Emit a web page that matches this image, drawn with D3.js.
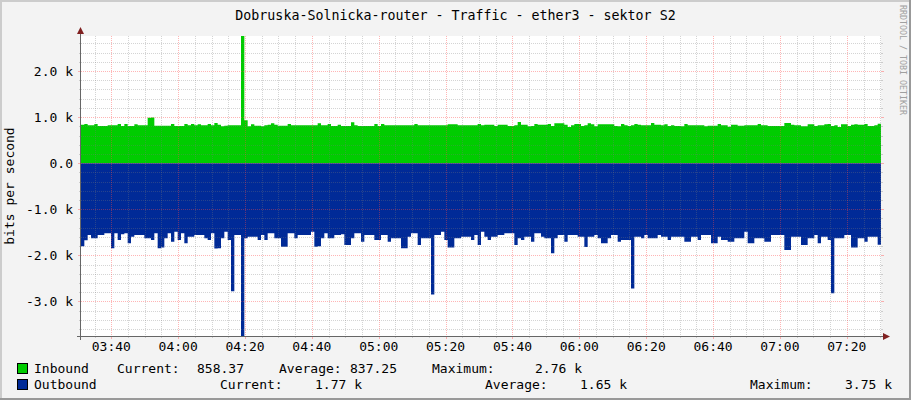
<!DOCTYPE html>
<html>
<head>
<meta charset="utf-8">
<script src="https://cdn.jsdelivr.net/npm/d3@7"></script>
<style>
  body { margin: 0; background: #f3f3f3; }
  svg { display: block; }
  text { font-family: "DejaVu Sans Mono", monospace; }
</style>
</head>
<body>
<svg id="chart" width="911" height="400"></svg>
<script>
// --- data (bits per second, one sample per minute) ---
const inbound = [
  836, 851, 822, 822, 851, 807, 807, 807, 822, 822,
  822, 851, 807, 851, 807, 807, 843, 822, 822, 822,
  985, 990, 814, 814, 814, 814, 814, 851, 807, 807,
  807, 851, 822, 851, 822, 843, 822, 822, 851, 822,
  872, 836, 800, 814, 822, 822, 822, 822, 2760, 930,
  800, 843, 814, 814, 800, 822, 836, 865, 836, 814,
  814, 814, 851, 822, 822, 822, 822, 822, 822, 822,
  822, 865, 822, 822, 851, 807, 807, 836, 807, 807,
  807, 887, 822, 807, 807, 807, 807, 807, 851, 807,
  851, 822, 822, 822, 822, 822, 822, 822, 822, 822,
  851, 822, 822, 822, 822, 822, 822, 822, 822, 822,
  843, 843, 843, 822, 822, 822, 822, 822, 822, 851,
  822, 836, 836, 836, 807, 836, 836, 836, 807, 807,
  822, 894, 836, 836, 800, 807, 851, 836, 836, 836,
  851, 807, 865, 865, 865, 836, 786, 822, 851, 851,
  807, 822, 865, 843, 800, 843, 843, 843, 843, 843,
  807, 800, 851, 822, 807, 822, 851, 836, 822, 822,
  822, 872, 836, 836, 822, 843, 807, 822, 807, 807,
  800, 851, 822, 822, 822, 822, 822, 800, 814, 814,
  814, 851, 822, 822, 793, 836, 836, 814, 814, 822,
  822, 822, 822, 851, 822, 822, 807, 807, 807, 807,
  807, 872, 872, 836, 822, 822, 800, 800, 843, 843,
  807, 822, 822, 843, 851, 807, 822, 786, 843, 843,
  807, 836, 843, 836, 836, 851, 807, 807, 822, 858
];
const outbound = [
  1800, 1670, 1560, 1630, 1630, 1560, 1560, 1522, 1522, 1847,
  1522, 1667, 1540, 1522, 1739, 1594, 1558, 1558, 1558, 1630,
  1630, 1667, 1522, 1847, 1830, 1630, 1522, 1703, 1490, 1667,
  1522, 1739, 1594, 1594, 1558, 1558, 1558, 1630, 1667, 1522,
  1850, 1847, 1630, 1486, 1667, 2780, 1558, 1558, 3750, 1630,
  1594, 1594, 1594, 1667, 1558, 1667, 1522, 1522, 1630, 1630,
  1811, 1811, 1522, 1522, 1630, 1558, 1558, 1558, 1558, 1486,
  1811, 1800, 1630, 1522, 1630, 1630, 1558, 1558, 1540, 1775,
  1775, 1630, 1522, 1522, 1703, 1558, 1558, 1558, 1667, 1667,
  1558, 1558, 1703, 1630, 1630, 1630, 1847, 1847, 1594, 1522,
  1522, 1775, 1630, 1630, 1630, 2850, 1558, 1558, 1486, 1667,
  1830, 1830, 1630, 1630, 1594, 1594, 1594, 1667, 1558, 1775,
  1486, 1594, 1667, 1594, 1594, 1558, 1558, 1522, 1522, 1522,
  1775, 1630, 1667, 1594, 1594, 1703, 1522, 1522, 1594, 1630,
  1630, 1956, 1630, 1558, 1558, 1703, 1558, 1558, 1558, 1594,
  1594, 1820, 1594, 1594, 1558, 1630, 1739, 1739, 1630, 1558,
  1558, 1703, 1667, 1667, 1667, 2720, 1594, 1594, 1630, 1558,
  1630, 1630, 1630, 1558, 1594, 1594, 1667, 1594, 1594, 1594,
  1594, 1703, 1703, 1594, 1594, 1667, 1558, 1558, 1558, 1739,
  1739, 1594, 1667, 1667, 1703, 1703, 1630, 1630, 1630, 1486,
  1739, 1739, 1630, 1630, 1630, 1703, 1703, 1558, 1558, 1558,
  1558, 1884, 1884, 1594, 1594, 1594, 1775, 1775, 1630, 1630,
  1558, 1739, 1594, 1594, 1667, 2820, 1630, 1630, 1630, 1558,
  1558, 1830, 1830, 1630, 1630, 1703, 1594, 1594, 1594, 1770
];

const yTicks = [-3000, -2000, -1000, 0, 1000, 2000];
const yTickLabels = ["-3.0 k", "-2.0 k", "-1.0 k", "0.0", "1.0 k", "2.0 k"];
const xTickLabels = ["03:40", "04:00", "04:20", "04:40", "05:00", "05:20", "05:40",
                     "06:00", "06:20", "06:40", "07:00", "07:20"];

const seriesNames = ["Inbound", "Outbound"];
const seriesColors = ["#00cc00", "#002a97"];
const currentVals = ["858.37", "1.77 k"];
const averageVals = ["837.25", "1.65 k"];
const maximumVals = ["2.76 k", "3.75 k"];

const title = "Dobruska-Solnicka-router - Traffic - ether3 - sektor S2";

// --- layout ---
const W = 911, H = 400;
const pL = 81, pR = 881, pT = 36, pB = 336;
const day = "2024-01-01T";
const t0 = new Date(day + "03:30:56");
const t1 = new Date(t0.getTime() + 239.3 * 60000);
const step = (t1 - t0) / inbound.length;

const svg = d3.select("#chart");

// frame
svg.append("rect").attr("width", W).attr("height", H).attr("fill", "#f3f3f3");
svg.append("rect").attr("x", 0).attr("y", 0).attr("width", W).attr("height", 2).attr("fill", "#cccccc");
svg.append("rect").attr("x", 0).attr("y", 0).attr("width", 2).attr("height", H).attr("fill", "#cccccc");
svg.append("rect").attr("x", 0).attr("y", H - 2).attr("width", W).attr("height", 2).attr("fill", "#999999");
svg.append("rect").attr("x", W - 2).attr("y", 0).attr("width", 2).attr("height", H).attr("fill", "#999999");

svg.append("rect")
  .attr("x", pL).attr("y", pT)
  .attr("width", pR - pL).attr("height", pB - pT)
  .attr("fill", "#ffffff");

const x = d3.scaleTime().domain([t0, t1]).range([pL, pR]);
const y = d3.scaleLinear().domain([-3750, 2760]).range([pB, pT]);

const tAt = i => new Date(t0.getTime() + i * step);
const withEnd = arr => arr.concat([arr[arr.length - 1]]);

const inArea = d3.area()
  .curve(d3.curveStepAfter)
  .x((d, i) => x(tAt(i)))
  .y0(y(0))
  .y1(d => y(d));

const outArea = d3.area()
  .curve(d3.curveStepAfter)
  .x((d, i) => x(tAt(i)))
  .y0(y(0))
  .y1(d => y(-d));

svg.append("path").attr("d", inArea(withEnd(inbound))).attr("fill", seriesColors[0]);
svg.append("path").attr("d", outArea(withEnd(outbound))).attr("fill", seriesColors[1]);

// grid (drawn on top, translucent like rrdtool)
const minorCol = "rgba(120,120,120,0.32)";
const majorCol = "rgba(255,70,70,0.4)";
const grid = svg.append("g").attr("shape-rendering", "crispEdges");
const py = v => Math.round(y(v)) + 0.5;
const px = t => Math.round(x(t)) + 0.5;

const yMinor = d3.range(-3600, 2760, 200).filter(v => v % 1000 !== 0);
grid.selectAll(".ymin").data(yMinor).join("line")
  .attr("x1", pL).attr("x2", pR)
  .attr("y1", py).attr("y2", py)
  .attr("stroke", minorCol).attr("stroke-dasharray", "1,1");
grid.selectAll(".ymint").data(yMinor).join("path")
  .attr("d", d => `M${pL - 2},${py(d)}H${pL}M${pR},${py(d)}H${pR + 2}`)
  .attr("stroke", minorCol);

const xMinor = x.ticks(d3.timeMinute.every(5)).filter(t => t.getMinutes() % 20 !== 0);
grid.selectAll(".xmin").data(xMinor).join("line")
  .attr("x1", px).attr("x2", px)
  .attr("y1", pT).attr("y2", pB)
  .attr("stroke", minorCol).attr("stroke-dasharray", "1,1");
grid.selectAll(".xmint").data(xMinor).join("line")
  .attr("x1", px).attr("x2", px)
  .attr("y1", pB).attr("y2", pB + 2)
  .attr("stroke", minorCol);

grid.selectAll(".ymaj").data(yTicks).join("line")
  .attr("x1", pL).attr("x2", pR)
  .attr("y1", py).attr("y2", py)
  .attr("stroke", majorCol).attr("stroke-dasharray", "1,1");
grid.selectAll(".ymajt").data(yTicks).join("path")
  .attr("d", d => `M${pL - 3},${py(d)}H${pL}M${pR},${py(d)}H${pR + 3}`)
  .attr("stroke", majorCol);

const xMajor = xTickLabels.map(s => new Date(day + s + ":00"));
grid.selectAll(".xmaj").data(xMajor).join("line")
  .attr("x1", px).attr("x2", px)
  .attr("y1", pT).attr("y2", pB)
  .attr("stroke", majorCol).attr("stroke-dasharray", "1,1");
grid.selectAll(".xmajt").data(xMajor).join("line")
  .attr("x1", px).attr("x2", px)
  .attr("y1", pB).attr("y2", pB + 3)
  .attr("stroke", majorCol);

// axes
const axisCol = "#666666";
const arrowCol = "#802020";
svg.append("line").attr("shape-rendering", "crispEdges")
  .attr("x1", pL - 0.5).attr("x2", pL - 0.5).attr("y1", pT - 6).attr("y2", pB + 4)
  .attr("stroke", axisCol);
svg.append("line").attr("shape-rendering", "crispEdges")
  .attr("x1", pL - 4).attr("x2", pR + 4).attr("y1", pB + 0.5).attr("y2", pB + 0.5)
  .attr("stroke", axisCol);
svg.append("path")
  .attr("d", `M${pL - 4},${pT - 2}L${pL - 0.5},${pT - 9}L${pL + 3},${pT - 2}Z`)
  .attr("fill", arrowCol);
svg.append("path")
  .attr("d", `M${pR + 2},${pB - 3}L${pR + 9},${pB + 0.5}L${pR + 2},${pB + 4}Z`)
  .attr("fill", arrowCol);

// tick labels
svg.append("g").selectAll("text").data(yTicks).join("text")
  .attr("x", 73).attr("y", d => y(d) + 4.5)
  .attr("text-anchor", "end").attr("font-size", 13).attr("fill", "#000")
  .text((d, i) => yTickLabels[i]);

svg.append("g").selectAll("text").data(xMajor).join("text")
  .attr("x", d => x(d)).attr("y", 351)
  .attr("text-anchor", "middle").attr("font-size", 13).attr("fill", "#000")
  .text((d, i) => xTickLabels[i]);

// titles
svg.append("text")
  .attr("x", W / 2).attr("y", 19.5)
  .attr("text-anchor", "middle").attr("font-size", 13.3).attr("fill", "#000")
  .text(title);

svg.append("text")
  .attr("transform", `translate(13.5,${(pT + pB) / 2}) rotate(-90)`)
  .attr("text-anchor", "middle").attr("font-size", 13).attr("fill", "#000")
  .text("bits per second");

svg.append("text")
  .attr("transform", "translate(900,5) rotate(90)")
  .attr("font-size", 8.3).attr("fill", "#a0a0a0")
  .text("RRDTOOL / TOBI OETIKER");

// legend
const rowY = [373, 389];
const colX = [
  { cur: 117, curEnd: 244, avg: 279, avgEnd: 397, max: 432, maxEnd: 582 },
  { cur: 220, curEnd: 362, avg: 485, avgEnd: 627, max: 750, maxEnd: 892 }
];
const legend = svg.append("g").attr("font-size", 13).attr("fill", "#000");
seriesNames.forEach((name, i) => {
  const yy = rowY[i];
  const c = colX[i];
  legend.append("rect")
    .attr("x", 17.5).attr("y", yy - 9.5).attr("width", 10).attr("height", 10)
    .attr("fill", seriesColors[i]).attr("stroke", "#000");
  legend.append("text").attr("x", 34).attr("y", yy).text(name);
  legend.append("text").attr("x", c.cur).attr("y", yy).text("Current:");
  legend.append("text").attr("x", c.curEnd).attr("y", yy).attr("text-anchor", "end").text(currentVals[i]);
  legend.append("text").attr("x", c.avg).attr("y", yy).text("Average:");
  legend.append("text").attr("x", c.avgEnd).attr("y", yy).attr("text-anchor", "end").text(averageVals[i]);
  legend.append("text").attr("x", c.max).attr("y", yy).text("Maximum:");
  legend.append("text").attr("x", c.maxEnd).attr("y", yy).attr("text-anchor", "end").text(maximumVals[i]);
});
</script>
</body>
</html>
